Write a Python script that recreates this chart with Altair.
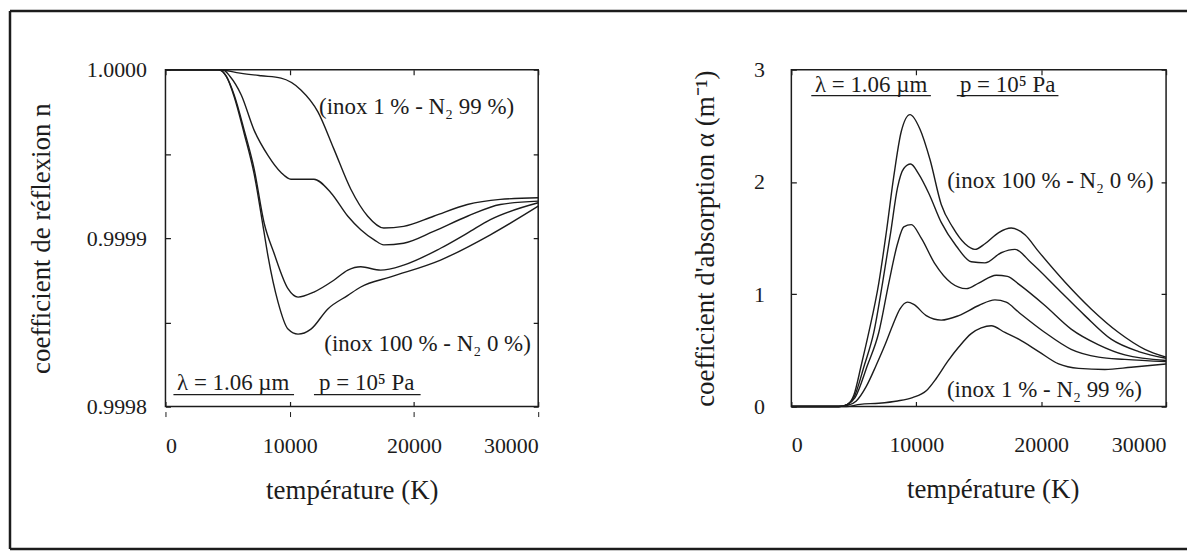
import altair as alt
import pandas as pd

# ---------------- data ----------------
# Left panel: coefficient de réflexion n vs température (K)
L_T_A = [0, 4200, 6000, 7700, 9300, 10900, 12270, 13550, 14920, 16280, 17570, 19170, 21580, 24300, 26950, 30000]
L_N_A = [1.0, 1.0, 0.999998, 0.9999964, 0.999995, 0.999988, 0.999975, 0.999953, 0.999929, 0.999913,
         0.999906, 0.999907, 0.999913, 0.99992, 0.999923, 0.999924]

L_T_B = [0, 4600, 5200, 6100, 7140, 8260, 9300, 10100, 11950, 13310, 14680, 15720, 16800, 17570,
         19170, 21580, 24300, 26950, 30000]
L_N_B = [1.0, 1.0, 0.999996, 0.999985, 0.999964, 0.999949, 0.999939, 0.999935, 0.999935, 0.999927,
         0.999913, 0.999905, 0.999899, 0.999896, 0.999897, 0.999904, 0.999913, 0.99992, 0.999922]

L_T_C = [0, 4300, 4900, 5530, 6340, 7140, 7940, 8740, 9860, 10670, 11950, 13550, 14680, 15720,
         17320, 19170, 22140, 24300, 26150, 30000]
L_N_C = [1.0, 1.0, 0.999996, 0.999985, 0.999964, 0.999941, 0.999909, 0.999891, 0.99987, 0.999865,
         0.999868, 0.999875, 0.999881, 0.999883, 0.999881, 0.999884, 0.999894, 0.999903, 0.999911, 0.999921]

L_T_D = [0, 4300, 4900, 5530, 6340, 7140, 7900, 8260, 9060, 9860, 10670, 11710, 13070, 14680,
         15720, 18130, 22140, 26150, 30000]
L_N_D = [1.0, 1.0, 0.999996, 0.999984, 0.999962, 0.999938, 0.999905, 0.999889, 0.999862, 0.999846,
         0.999843, 0.999846, 0.999858, 0.999866, 0.999871, 0.999877, 0.999887, 0.999902, 0.999919]

# Right panel: coefficient d'absorption alpha (m^-1) vs température (K)
R_T_1 = [0, 3800, 4500, 5000, 5600, 6200, 7000, 7600, 8200, 8800, 9500, 10300, 11100, 12000, 12900,
         13900, 14700, 15500, 16600, 17600, 18700, 19800, 21900, 24000, 26200, 28300, 30000]
R_A_1 = [0, 0, 0.02, 0.1, 0.37, 0.66, 1.1, 1.55, 2.05, 2.45, 2.6, 2.47, 2.2, 1.8, 1.6,
         1.45, 1.4, 1.45, 1.55, 1.59, 1.53, 1.38, 1.11, 0.87, 0.66, 0.51, 0.44]

R_T_2 = [0, 3800, 4500, 5000, 5850, 6600, 7300, 7950, 8500, 9000, 9550, 10200, 11000, 12000, 13200,
         14400, 15500, 16800, 17900, 19200, 21400, 23500, 25600, 27800, 30000]
R_A_2 = [0, 0, 0.02, 0.08, 0.37, 0.66, 1.1, 1.55, 1.95, 2.12, 2.16, 2.07, 1.9, 1.64, 1.43,
         1.29, 1.28, 1.37, 1.40, 1.28, 1.04, 0.81, 0.60, 0.49, 0.43]

R_T_3 = [0, 3800, 4500, 5100, 6100, 7000, 7800, 8500, 9000, 9600, 10400, 11500, 12800, 14000, 15000,
         16400, 17300, 18200, 20300, 22400, 24600, 26700, 30000]
R_A_3 = [0, 0, 0.02, 0.08, 0.37, 0.66, 1.1, 1.45, 1.6, 1.62, 1.5, 1.27, 1.1, 1.05, 1.1,
         1.17, 1.16, 1.09, 0.90, 0.69, 0.55, 0.46, 0.41]

R_T_4 = [0, 3800, 4500, 5200, 6000, 6800, 7500, 8100, 8700, 9300, 9800, 10800, 12000, 13400, 15000,
         16300, 17200, 18200, 20300, 22400, 24600, 26700, 30000]
R_A_4 = [0, 0, 0.01, 0.05, 0.18, 0.37, 0.55, 0.72, 0.87, 0.93, 0.91, 0.81, 0.77, 0.81, 0.9,
         0.95, 0.93, 0.84, 0.66, 0.51, 0.44, 0.42, 0.40]

R_T_5 = [0, 4400, 5500, 7000, 8500, 9700, 10800, 11600, 12500, 13400, 14400, 15200, 16000, 17100,
         18200, 19800, 21400, 23000, 25100, 27200, 30000]
R_A_5 = [0, 0, 0.02, 0.03, 0.05, 0.08, 0.14, 0.25, 0.40, 0.53, 0.65, 0.70, 0.72, 0.66,
         0.60, 0.49, 0.38, 0.34, 0.33, 0.35, 0.38]

X_TICKS = [0, 10000, 20000, 30000]
L_Y_TICKS = [0.9998, 0.99985, 0.9999, 0.99995, 1.0]
R_Y_TICKS = [0, 1, 2, 3]

X_TITLE = "température (K)"
L_Y_TITLE = "coefficient de réflexion n"
R_Y_TITLE = "coefficient d'absorption α (m⁻¹)"

L_LABEL_TOP = "(inox 1 % - N₂ 99 %)"
L_LABEL_BOT = "(inox 100 % - N₂ 0 %)"
R_LABEL_TOP = "(inox 100 % - N₂ 0 %)"
R_LABEL_BOT = "(inox 1 % - N₂ 99 %)"
LAMBDA_TXT = "λ = 1.06 µm"
P_TXT = "p = 10⁵ Pa"


def long_df(curves):
    rows = []
    for name, (ts, vs) in curves.items():
        for t, v in zip(ts, vs):
            rows.append({"T": t, "v": v, "curve": name})
    return pd.DataFrame(rows)


left_df = long_df({"A": (L_T_A, L_N_A), "B": (L_T_B, L_N_B), "C": (L_T_C, L_N_C), "D": (L_T_D, L_N_D)})
right_df = long_df({"1": (R_T_1, R_A_1), "2": (R_T_2, R_A_2), "3": (R_T_3, R_A_3),
                    "4": (R_T_4, R_A_4), "5": (R_T_5, R_A_5)})

# ---------------- styling ----------------
FONT = "Liberation Serif"
INK = "#1c1c1c"
W_L, W_R, H = 374, 376, 338
TICK_F, TITLE_F, ANN_F = 22, 27, 23


def text_mark(txt, px, py, size=ANN_F, align="center"):
    return alt.Chart(pd.DataFrame({"s": [txt]})).mark_text(
        font=FONT, fontSize=size, color=INK, align=align, baseline="middle"
    ).encode(text="s:N", x=alt.value(px), y=alt.value(py))


def hrule(x1, x2, y, w=1.2):
    return alt.Chart(pd.DataFrame({"k": [0]})).mark_rule(color=INK, strokeWidth=w).encode(
        x=alt.value(x1), x2=alt.value(x2), y=alt.value(y))


def vrule(x, y1, y2, w=1.2):
    return alt.Chart(pd.DataFrame({"k": [0]})).mark_rule(color=INK, strokeWidth=w).encode(
        x=alt.value(x), y=alt.value(y1), y2=alt.value(y2))


AX_STYLE = dict(labelFont=FONT, titleFont=FONT, labelFontSize=TICK_F, titleFontSize=TITLE_F,
                labelColor=INK, titleColor=INK, titleFontWeight="normal", labelFontWeight="normal")

# ---------------- left panel ----------------
lx = alt.X("T:Q", scale=alt.Scale(domain=[0, 30000], nice=False, zero=False),
           axis=alt.Axis(values=X_TICKS, format="d", title=X_TITLE, offset=5, ticks=True, tickSize=5,
                         tickColor=INK, domain=False, grid=True, gridDash=[5, H - 10, 5, 2000],
                         gridColor=INK, gridWidth=1.2, gridOpacity=1, labelPadding=19,
                         titleX=W_L / 2, titleY=79, titleAlign="center", titleBaseline="middle",
                         **AX_STYLE))
ly = alt.Y("v:Q", scale=alt.Scale(domain=[0.9998, 1.0], nice=False, zero=False),
           axis=alt.Axis(values=L_Y_TICKS, title=L_Y_TITLE, ticks=False, domain=False,
                         labelExpr="round(datum.value*1e5) % 10 == 0 ? format(datum.value, '.4f') : ''",
                         grid=True, gridDash=[5, W_L - 10, 5, 2000], gridColor=INK, gridWidth=1.2,
                         gridOpacity=1, labelPadding=19,
                         titleX=-124, titleY=H / 2, titleAlign="center", titleBaseline="middle",
                         **AX_STYLE))

left_lines = alt.Chart(left_df).mark_line(color=INK, strokeWidth=1.4, interpolate="monotone").encode(
    x=lx, y=ly, detail="curve:N")

left = alt.layer(
    left_lines,
    text_mark(L_LABEL_TOP, 252, 37),
    text_mark(L_LABEL_BOT, 263, 275),
    text_mark(LAMBDA_TXT, 68, 314),
    text_mark(P_TXT, 202, 314),
    hrule(8, 129, 326),
    hrule(149, 256, 326),
    # outer frame of the figure
    hrule(-156, 1025, -59, 2.5),
    hrule(-156, 1025, 481, 2.5),
    vrule(-156, -59, 481, 2.5),
).properties(width=W_L, height=H)

# ---------------- right panel ----------------
rx = alt.X("T:Q", scale=alt.Scale(domain=[0, 30000], nice=False, zero=False),
           axis=alt.Axis(values=X_TICKS, format="d", title=X_TITLE, ticks=False, domain=False,
                         grid=True, gridDash=[5, H - 10, 5, 2000], gridColor=INK, gridWidth=1.2,
                         gridOpacity=1, labelPadding=28,
                         titleX=W_R / 2 + 14, titleY=83, titleAlign="center", titleBaseline="middle",
                         **AX_STYLE))
ry = alt.Y("v:Q", scale=alt.Scale(domain=[0, 3], nice=False, zero=False),
           axis=alt.Axis(values=R_Y_TICKS, format="d", title=R_Y_TITLE, ticks=False, domain=False,
                         grid=True, gridDash=[5, W_R - 10, 5, 2000], gridColor=INK, gridWidth=1.2,
                         gridOpacity=1, labelPadding=27,
                         titleX=-86, titleY=H / 2, titleAlign="center", titleBaseline="middle",
                         **AX_STYLE))

right_lines = alt.Chart(right_df).mark_line(color=INK, strokeWidth=1.4, interpolate="monotone").encode(
    x=rx, y=ry, detail="curve:N")

right = alt.layer(
    right_lines,
    text_mark(LAMBDA_TXT, 80, 15),
    text_mark(P_TXT, 217, 15),
    hrule(20, 140, 26),
    hrule(166, 268, 26),
    text_mark(R_LABEL_TOP, 260, 112),
    text_mark(R_LABEL_BOT, 254, 321),
).properties(width=W_R, height=H)

chart = alt.hconcat(left, right, spacing=254, bounds="flush").properties(
    padding=0, background="white"
).configure_view(
    stroke=INK, strokeWidth=1.5
)

chart.save("out.html", embed_options={"renderer": "svg", "actions": False})
